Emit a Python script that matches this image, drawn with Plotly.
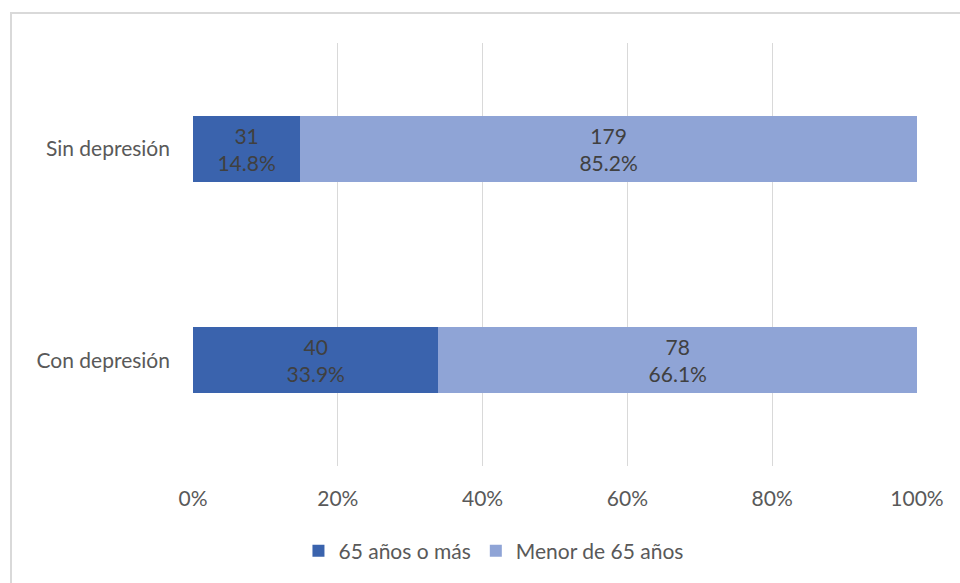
import plotly.graph_objects as go

categories = ["Con depresión", "Sin depresión"]
series_names = ["65 años o más", "Menor de 65 años"]
counts_65plus = [40, 31]
counts_under65 = [78, 179]
pct_65plus = [33.9, 14.8]
pct_under65 = [66.1, 85.2]
x_ticks = [0, 20, 40, 60, 80, 100]
x_tick_labels = ["0%", "20%", "40%", "60%", "80%", "100%"]

colors = ["#3A63AD", "#8FA4D6"]
font_family = "Lato, 'Open Sans', sans-serif"

fig = go.Figure()
for name, cnts, pcts, col in [
    (series_names[0], counts_65plus, pct_65plus, colors[0]),
    (series_names[1], counts_under65, pct_under65, colors[1]),
]:
    fig.add_trace(go.Bar(
        y=categories, x=pcts, name=name, orientation="h",
        marker=dict(color=col, line=dict(width=0)),
        text=[f"{c}<br>{p:.1f}%" for c, p in zip(cnts, pcts)],
        textposition="inside", insidetextanchor="middle",
        textfont=dict(color="#404040", size=21, family=font_family),
        hoverinfo="skip",
    ))

fig.update_layout(
    barmode="stack",
    bargap=0.69,
    width=960, height=583,
    margin=dict(l=193, r=43, t=43, b=117),
    paper_bgcolor="white", plot_bgcolor="white",
    font=dict(family=font_family, color="#595959", size=21),
    uniformtext=dict(mode=False),
    xaxis=dict(range=[0, 100], tickvals=x_ticks, ticktext=x_tick_labels,
               showgrid=True, gridcolor="#D9D9D9", gridwidth=1,
               zeroline=False, showline=False, ticks="",
               tickfont=dict(size=21, color="#595959"), ticklabelstandoff=18),
    yaxis=dict(showgrid=False, zeroline=False, showline=False, ticks="",
               tickfont=dict(size=21, color="#595959"), ticklabelstandoff=22),
    legend=dict(orientation="h", x=0.415, xanchor="center", y=-0.201, yanchor="middle",
                font=dict(size=21, color="#595959"), traceorder="normal",
                itemwidth=30, tracegroupgap=0),
    shapes=[
        dict(type="rect", xref="paper", yref="paper",
             x0=(11 - 193) / 724, x1=1.2, y0=-0.5, y1=1 + (43 - 13) / 423,
             line=dict(color="#D9D9D9", width=2), fillcolor="rgba(0,0,0,0)", layer="below"),
    ],
)

fig.write_html("out.html")
